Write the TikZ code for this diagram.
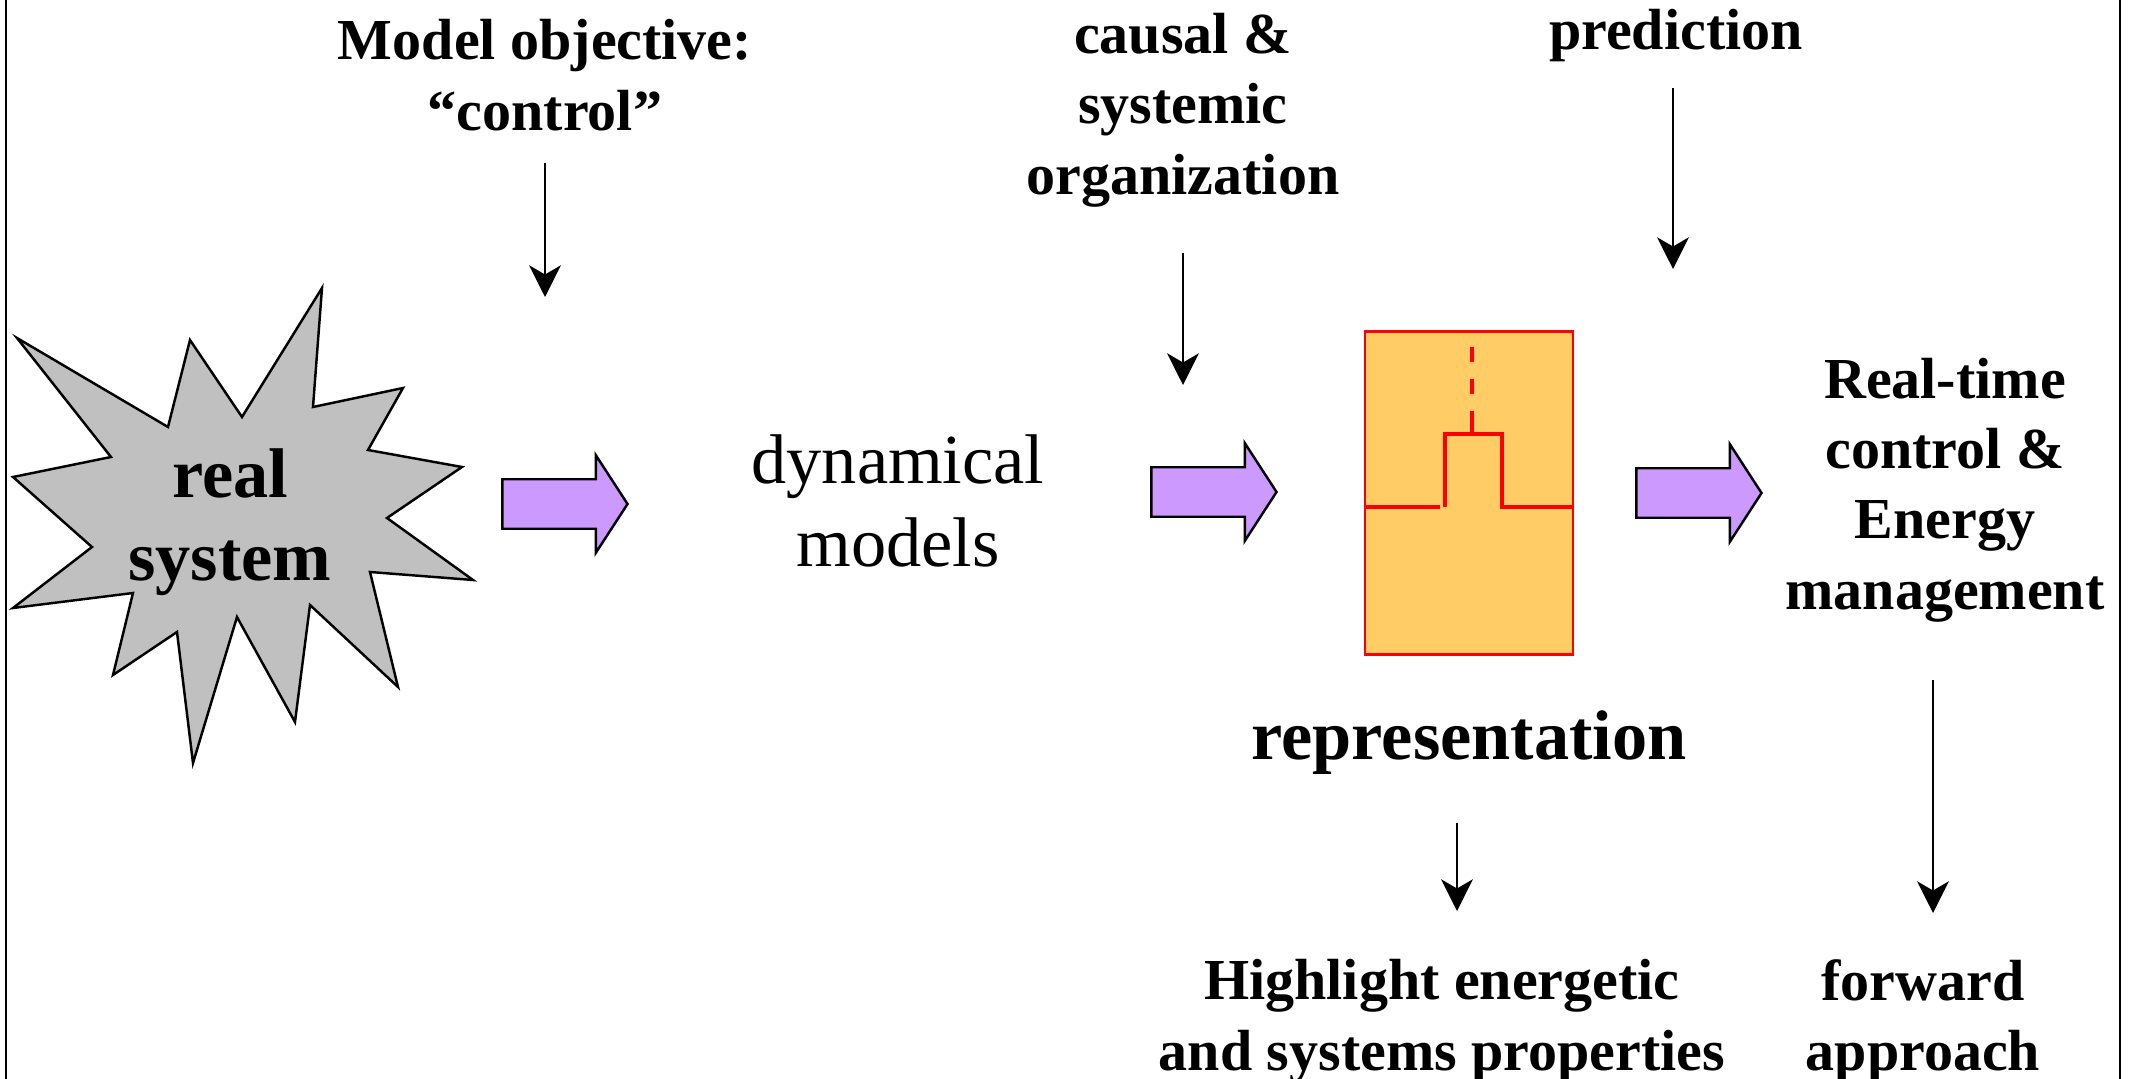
\documentclass[tikz,border=0pt]{standalone}
\usepackage{fontspec}
\setmainfont{Liberation Serif}
\usetikzlibrary{arrows.meta,shapes.arrows,positioning}

\definecolor{burstgray}{HTML}{C0C0C0}
\definecolor{blockviolet}{HTML}{CC99FF}
\definecolor{boxorange}{HTML}{FFCC66}

\begin{document}
\begin{tikzpicture}[
        x=0.01cm, y=-0.01cm,
        every node/.style={align=center, inner sep=0pt},
        label/.style={font=\fontsize{16.5}{20}\selectfont\bfseries},
        biglabel/.style={font=\fontsize{20}{23.5}\selectfont\bfseries},
        plainlabel/.style={font=\fontsize{20}{23.5}\selectfont},
        flow/.style={-{Stealth[length=9pt, width=9pt, inset=2.6pt]}, line width=0.7pt},
        blockarrow/.style={single arrow, draw, fill=blockviolet, line width=0.7pt,
            minimum height=1.25cm, single arrow head extend=0.24cm,
            single arrow tip angle=114, single arrow head indent=0pt,
            inner xsep=0pt, inner ysep=0.235cm, anchor=tip}
    ]
    \useasboundingbox (0,0) rectangle (2132,1079);

    % Frame
    \draw[line width=0.7pt] (6,0) -- (6,1079);
    \draw[line width=0.7pt] (2120,0) -- (2120,1079);

    % Real system
    \draw[line width=0.7pt, fill=burstgray]
        (17,338) -- (168,427) -- (190,340) -- (242,417) -- (322,288) -- (313,407)
        -- (403,388) -- (368,450) -- (462,467) -- (387,518) -- (473,580) -- (370,572)
        -- (398,687) -- (310,605) -- (295,722) -- (237,617) -- (193,763) -- (177,632)
        -- (113,675) -- (133,593) -- (13,608) -- (92,547) -- (13,477) -- (111,457) -- cycle;
    \node[biglabel] (real) at (230,522) {real\\system};

    % Representation block
    \node[draw=red, fill=boxorange, line width=0.8pt,
        minimum width=2.08cm, minimum height=3.22cm] (repbox) at (1469,493) {};
    \draw[red, line width=0.9pt] (1365,507) -- (1440,507);
    \draw[red, line width=0.9pt] (1445,507) -- (1445,434) -- (1502,434) -- (1502,507) -- (1573,507);
    \draw[red, line width=0.9pt] (1472,434) -- (1472,411);
    \draw[red, line width=0.9pt, dash pattern=on 4.3pt off 4.8pt] (1472,394) -- (1472,332);

    % Nodes
    \node[label] (objective) at (545,75) {Model objective:\\“control”};
    \node[plainlabel] (dynamical) at (898,501) {dynamical\\models};
    \node[label] (causal) at (1183,110) {causal \&\\systemic\\organization};
    \node[label, anchor=base] (prediction) at (1676,50) {prediction};
    \node[biglabel, anchor=base] (representation) at (1469,759) {representation};
    \node[label] (realtime) at (1945,490) {Real-time\\control \&\\Energy\\management};
    \node[label] (highlight) at (1442,1021) {Highlight energetic\\and systems properties};
    \node[label] (forward) at (1923,1021) {forward\\approach};

    % Block arrows
    \node[blockarrow] (step1) at (629,504) {};
    \node[blockarrow] (step2) at (1278,492) {};
    \node[blockarrow] (step3) at (1763,493) {};

    % Edges
    \coordinate (objtip) at (545,297);
    \coordinate (caustip) at (1183,385);
    \coordinate (predtip) at (1673,269);
    \coordinate (reptip) at (1457,911);
    \coordinate (rttip) at (1933,913);
    \draw[flow, shorten <=0.32cm] (objective.south -| objtip) -- (objtip);
    \draw[flow, shorten <=0.45cm] (causal.south -| caustip) -- (caustip);
    \draw[flow, shorten <=0.25cm] (prediction.south -| predtip) -- (predtip);
    \draw[flow, shorten <=0.48cm] (representation.south -| reptip) -- (reptip);
    \draw[flow, shorten <=0.57cm] (realtime.south -| rttip) -- (rttip);

\end{tikzpicture}
\end{document}
